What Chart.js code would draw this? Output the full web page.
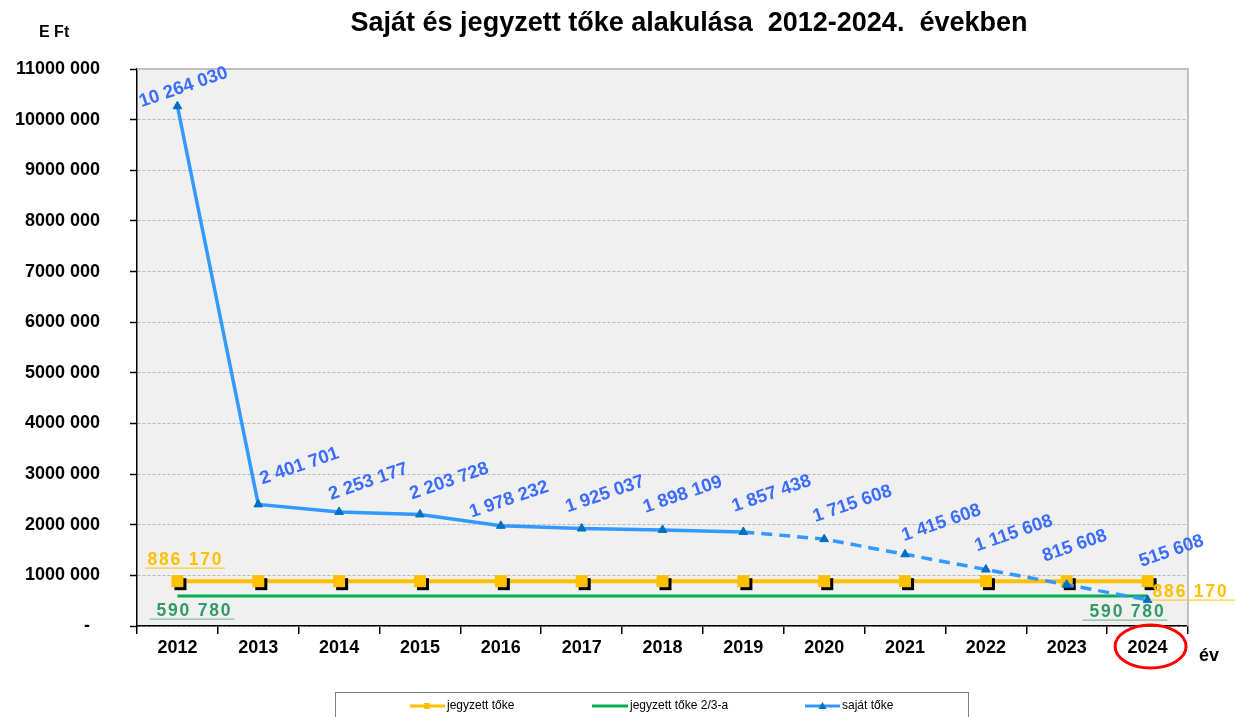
<!DOCTYPE html>
<html><head><meta charset="utf-8">
<script src="https://cdn.jsdelivr.net/npm/chart.js@4/dist/chart.umd.min.js"></script>
<style>html,body{margin:0;padding:0;background:#fff;overflow:hidden}#wrap{width:1235px;height:717px;position:relative}</style>
</head><body><div id="wrap"><canvas id="c" width="1235" height="717"></canvas></div>
<script>
const years = ['2012','2013','2014','2015','2016','2017','2018','2019','2020','2021','2022','2023','2024'];
const jegyzettToke = [886170,886170,886170,886170,886170,886170,886170,886170,886170,886170,886170,886170,886170];
const jegyzettToke23 = [590780,590780,590780,590780,590780,590780,590780,590780,590780,590780,590780,590780,590780];
const sajatToke = [10264030,2401701,2253177,2203728,1978232,1925037,1898109,1857438,1715608,1415608,1115608,815608,515608];
const yTickLabels = ['-  ','1000 000','2000 000','3000 000','4000 000','5000 000','6000 000','7000 000','8000 000','9000 000','10000 000','11000 000'];
const seriesNames = ['jegyzett tőke','jegyzett tőke 2/3-a','saját tőke'];
const titleText = 'Saját és jegyzett tőke alakulása  2012-2024.  években';
// label nudges (pixels) for the rotated saját tőke value labels
const labelShift = [[-36,1],[4,-20],[-8,-12],[-8,-15],[-29,-8],[-14,-16],[-17,-17],[-9,-20],[-9,-17],[-1,-13],[-9,-18],[-22,-23],[-6,-33]];

const FONT = '"Liberation Sans", Arial, sans-serif';
const YELLOW = '#FFC000', GREEN = '#00B050', BLUE = '#3399FF', DBLUE = '#0070C0';

function fmt(n){ return String(n).replace(/\B(?=(\d{3})+(?!\d))/g,' '); }

// square marker with black shadow
const sq = document.createElement('canvas');
sq.width = 22; sq.height = 22;
(function(){ const g = sq.getContext('2d');
  g.fillStyle = '#000'; g.fillRect(8,8,12,12);
  g.fillStyle = YELLOW; g.fillRect(5,5,12,12);
})();

const bgPlugin = {
  id:'bg',
  beforeDraw(chart){
    const {ctx, chartArea:a} = chart;
    ctx.save();
    ctx.fillStyle = '#fff'; ctx.fillRect(0,0,chart.width,chart.height);
    ctx.fillStyle = '#f0f0f0'; ctx.fillRect(a.left,a.top,a.right-a.left,a.bottom-a.top);
    ctx.restore();
  },
  beforeDatasetsDraw(chart){
    const {ctx, chartArea:a} = chart;
    ctx.save();
    ctx.strokeStyle = '#c0c0c0'; ctx.lineWidth = 2;
    ctx.beginPath(); ctx.moveTo(a.left, a.top); ctx.lineTo(a.right, a.top); ctx.lineTo(a.right, a.bottom); ctx.stroke();
    ctx.restore();
  }
};

const labelPlugin = {
  id:'labels',
  afterDatasetsDraw(chart){
    const ctx = chart.ctx;
    // blue rotated labels
    const mb = chart.getDatasetMeta(0);
    ctx.save();
    ctx.font = 'bold 18.5px ' + FONT;
    ctx.fillStyle = '#3A6CFF';
    ctx.textAlign = 'left'; ctx.textBaseline = 'alphabetic';
    mb.data.forEach((p,i) => {
      const s = labelShift[i] || [-10,-16];
      ctx.save();
      ctx.translate(p.x + s[0], p.y + s[1]);
      ctx.rotate(-19*Math.PI/180);
      ctx.fillText(fmt(sajatToke[i]), 0, 0);
      ctx.restore();
    });
    ctx.restore();

    const my = chart.getDatasetMeta(1), mg = chart.getDatasetMeta(2);
    const n = years.length - 1;
    const items = [
      {p: my.data[0], v: jegyzettToke[0], dx:-30, dy:-16, c: YELLOW, u:'#FFCC33', ext:2},
      {p: my.data[n], v: jegyzettToke[n], dx:5, dy:16, c: YELLOW, u:'#FFCC33', ext:12},
      {p: mg.data[0], v: jegyzettToke23[0], dx:-21, dy:20, c:'#339966', u:'#7fbf9f', ext:2, pre:7},
      {p: mg.data[n], v: jegyzettToke23[n], dx:-58, dy:21, c:'#339966', u:'#7fbf9f', ext:2, pre:7}
    ];
    ctx.save();
    ctx.font = 'bold 17.5px ' + FONT;
    try { ctx.letterSpacing = '1.8px'; } catch(e){}
    ctx.textAlign = 'left'; ctx.textBaseline = 'alphabetic';
    items.forEach(it => {
      const x = it.p.x + it.dx, y = it.p.y + it.dy;
      const t = fmt(it.v);
      ctx.fillStyle = it.c;
      ctx.fillText(t, x, y);
      const w = ctx.measureText(t).width;
      ctx.strokeStyle = it.u; ctx.lineWidth = 1.3;
      ctx.beginPath(); ctx.moveTo(x - (it.pre||2), y + 3); ctx.lineTo(x + w + it.ext, y + 3); ctx.stroke();
    });
    ctx.restore();
  },
  afterDraw(chart){
    const ctx = chart.ctx;
    const xs = chart.scales.x, a = chart.chartArea;
    ctx.save();
    // title
    ctx.fillStyle = '#000';
    ctx.font = 'bold 27px ' + FONT;
    ctx.textAlign = 'center'; ctx.textBaseline = 'alphabetic';
    ctx.fillText(titleText, 689, 31);
    // unit
    ctx.font = 'bold 16px ' + FONT;
    ctx.textAlign = 'left';
    ctx.fillText('E Ft', 39, 37);
    // axis title
    ctx.font = 'bold 18px ' + FONT;
    ctx.fillText('év', 1199, 661);
    // red ellipse around last category label
    const cx = xs.getPixelForValue(years.length - 1) + 3;
    ctx.strokeStyle = '#FF0000'; ctx.lineWidth = 3;
    ctx.beginPath(); ctx.ellipse(cx, a.bottom + 20.5, 35.5, 21.5, 0, 0, Math.PI*2); ctx.stroke();
    // legend
    ctx.strokeStyle = '#808080'; ctx.lineWidth = 1;
    ctx.strokeRect(335.5, 692.5, 633, 40);
    const ly = 706;
    ctx.font = '12px ' + FONT; ctx.textBaseline = 'middle'; ctx.fillStyle = '#000';
    // yellow
    ctx.strokeStyle = YELLOW; ctx.lineWidth = 3;
    ctx.beginPath(); ctx.moveTo(410, ly); ctx.lineTo(445, ly); ctx.stroke();
    ctx.fillStyle = YELLOW; ctx.fillRect(424, ly-3, 6, 6);
    ctx.fillStyle = '#000'; ctx.fillText(seriesNames[0], 447, ly);
    // green
    ctx.strokeStyle = GREEN;
    ctx.beginPath(); ctx.moveTo(592, ly); ctx.lineTo(628, ly); ctx.stroke();
    ctx.fillText(seriesNames[1], 630, ly);
    // blue
    ctx.strokeStyle = BLUE;
    ctx.beginPath(); ctx.moveTo(805, ly); ctx.lineTo(840, ly); ctx.stroke();
    ctx.fillStyle = DBLUE;
    ctx.beginPath(); ctx.moveTo(822.5, ly-4); ctx.lineTo(826.5, ly+3); ctx.lineTo(818.5, ly+3); ctx.closePath(); ctx.fill();
    ctx.fillStyle = '#000'; ctx.fillText(seriesNames[2], 842, ly);
    ctx.restore();
  }
};

new Chart(document.getElementById('c'), {
  type:'line',
  data:{
    labels: years,
    datasets:[
      {label: seriesNames[2], data: sajatToke, borderColor: BLUE, borderWidth: 3.5, tension: 0,
       pointStyle:'triangle', pointRadius: 5, pointBackgroundColor: DBLUE, pointBorderColor: DBLUE, pointBorderWidth: 1,
       segment:{ borderDash: c => c.p0DataIndex >= 7 ? [11,7] : undefined }, order: 0},
      {label: seriesNames[0], data: jegyzettToke, borderColor: YELLOW, borderWidth: 4, tension: 0,
       pointStyle: sq, pointRadius: 6, order: 1},
      {label: seriesNames[1], data: jegyzettToke23, borderColor: GREEN, borderWidth: 3, tension: 0,
       pointRadius: 0, order: 2}
    ]
  },
  options:{
    responsive:false, animation:false, devicePixelRatio:1,
    layout:{ padding:{ left:0, top:69, right:47, bottom:0 } },
    plugins:{ legend:{display:false}, title:{display:false}, tooltip:{enabled:false} },
    scales:{
      x:{
        offset:true,
        grid:{ display:true, offset:true, drawOnChartArea:false, drawTicks:true, tickLength:8, color:'#000', tickColor:'#000', lineWidth:1.5 },
        border:{ display:true, color:'#000', width:1.5 },
        ticks:{ color:'#000', font:{ family: FONT, size:18, weight:'bold' }, padding:3, maxRotation:0, autoSkip:false },
        afterFit(s){ s.height = 91; }
      },
      y:{
        min:0, max:11000000,
        grid:{ color:'#b8b8b8', tickColor:'#000', tickLength:7, lineWidth:1, tickWidth:1.5 },
        border:{ display:true, color:'#000', width:1.5, dash:[3,2] },
        ticks:{ stepSize:1000000, color:'#000', font:{ family: FONT, size:18, weight:'bold' }, padding:30,
          callback:(v,i) => yTickLabels[i] },
        afterFit(s){ s.width = 137; }
      }
    }
  },
  plugins:[bgPlugin, labelPlugin]
});
</script></body></html>
